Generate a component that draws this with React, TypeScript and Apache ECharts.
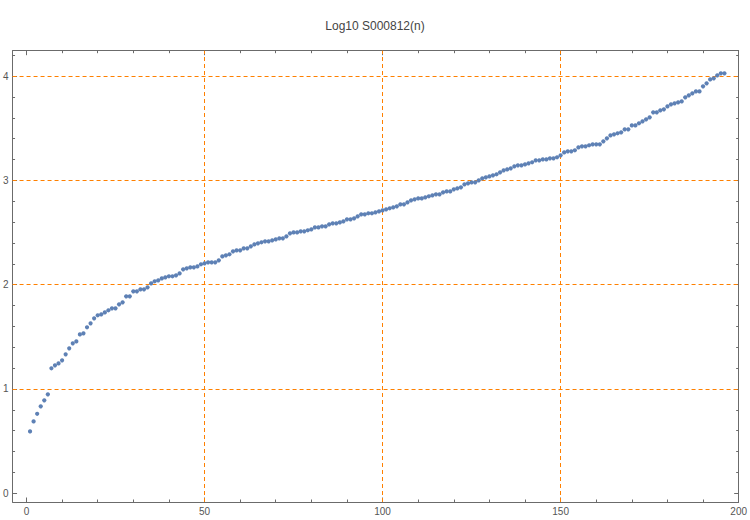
import React, { useEffect, useRef } from "react";
import * as echarts from "echarts";

const titleText = "Log10 S000812(n)";

const logValues: number[] = [
  0.593, 0.689, 0.762, 0.833, 0.891, 0.948, 1.198, 1.226, 1.245, 1.274,
  1.332, 1.389, 1.437, 1.456, 1.523, 1.533, 1.591, 1.629, 1.677, 1.706,
  1.715, 1.734, 1.754, 1.773, 1.773, 1.811, 1.83, 1.888, 1.888, 1.936,
  1.936, 1.955, 1.955, 1.974, 2.012, 2.032, 2.041, 2.06, 2.07, 2.08,
  2.08, 2.089, 2.108, 2.147, 2.156, 2.166, 2.166, 2.175, 2.195, 2.204,
  2.214, 2.214, 2.214, 2.233, 2.271, 2.281, 2.291, 2.319, 2.329, 2.329,
  2.348, 2.348, 2.367, 2.386, 2.396, 2.406, 2.415, 2.415, 2.425, 2.434,
  2.444, 2.444, 2.463, 2.492, 2.501, 2.501, 2.511, 2.511, 2.521, 2.53,
  2.549, 2.549, 2.559, 2.559, 2.578, 2.588, 2.588, 2.597, 2.607, 2.626,
  2.626, 2.636, 2.655, 2.674, 2.674, 2.684, 2.684, 2.693, 2.703, 2.712,
  2.722, 2.732, 2.741, 2.751, 2.77, 2.77, 2.789, 2.808, 2.818, 2.827,
  2.827, 2.837, 2.847, 2.856, 2.866, 2.866, 2.885, 2.894, 2.894, 2.914,
  2.923, 2.933, 2.962, 2.971, 2.981, 2.981, 3.0, 3.019, 3.029, 3.038,
  3.048, 3.058, 3.077, 3.096, 3.105, 3.115, 3.134, 3.144, 3.144, 3.153,
  3.163, 3.173, 3.192, 3.192, 3.201, 3.201, 3.211, 3.211, 3.221, 3.24,
  3.268, 3.278, 3.278, 3.288, 3.316, 3.326, 3.326, 3.336, 3.345, 3.345,
  3.345, 3.374, 3.403, 3.431, 3.441, 3.451, 3.46, 3.489, 3.489, 3.527,
  3.527, 3.547, 3.566, 3.585, 3.604, 3.652, 3.652, 3.671, 3.681, 3.709,
  3.729, 3.738, 3.748, 3.757, 3.796, 3.815, 3.834, 3.853, 3.853, 3.901,
  3.93, 3.968, 3.978, 4.007, 4.026, 4.026,
];

const xMajorTicks = [0, 50, 100, 150, 200];
const xMinorTicks = [10, 20, 30, 40, 60, 70, 80, 90, 110, 120, 130, 140, 160, 170, 180, 190];
const yMajorTicks = [0, 1, 2, 3, 4];
const yMinorTicks = [
  0.2, 0.4, 0.6, 0.8, 1.2, 1.4, 1.6, 1.8, 2.2, 2.4, 2.6, 2.8, 3.2, 3.4, 3.6, 3.8, 4.2,
];
const gridLinesX = [50, 100, 150];
const gridLinesY = [1, 2, 3, 4];

const X_MIN = -3.91;
const X_MAX = 200;
const Y_MIN = -0.084;
const Y_MAX = 4.243;

const FRAME = "#6b6b6b";
const LABEL = "#555555";
const FONT = "'Liberation Sans', Arial, sans-serif";

function makeX(position: "top" | "bottom", ticks: number[], len: number, labels: boolean, line: boolean) {
  return {
    type: "value",
    position,
    min: X_MIN,
    max: X_MAX,
    axisLine: { show: line, onZero: false, lineStyle: { color: FRAME, width: 1 } },
    axisTick: {
      show: true,
      inside: true,
      length: len,
      customValues: ticks,
      lineStyle: { color: FRAME, width: 1 },
    },
    axisLabel: labels
      ? {
          show: true,
          customValues: ticks,
          color: LABEL,
          fontSize: 10,
          fontFamily: FONT,
          margin: 4,
        }
      : { show: false },
    splitLine: { show: false },
  };
}

function makeY(position: "left" | "right", ticks: number[], len: number, labels: boolean, line: boolean) {
  return {
    type: "value",
    position,
    min: Y_MIN,
    max: Y_MAX,
    axisLine: { show: line, onZero: false, lineStyle: { color: FRAME, width: 1 } },
    axisTick: {
      show: true,
      inside: true,
      length: len,
      customValues: ticks,
      lineStyle: { color: FRAME, width: 1 },
    },
    axisLabel: labels
      ? {
          show: true,
          customValues: ticks,
          color: LABEL,
          fontSize: 10,
          fontFamily: FONT,
          margin: 4,
        }
      : { show: false },
    splitLine: { show: false },
  };
}

export default function App() {
  const ref = useRef<HTMLDivElement>(null);

  useEffect(() => {
    if (!ref.current) return;
    const chart = echarts.init(ref.current, undefined, { renderer: "svg" });
    const points = logValues.map((v, i) => [i + 1, v]);
    const markData = [
      ...gridLinesX.map((x) => ({ xAxis: x })),
      ...gridLinesY.map((y) => ({ yAxis: y })),
    ];
    chart.setOption({
      animation: false,
      backgroundColor: "#ffffff",
      title: {
        text: titleText,
        left: "center",
        top: 15,
        textStyle: { fontSize: 12, fontWeight: "normal", color: "#444444", fontFamily: FONT },
      },
      grid: { left: 9.3, right: 10.7, top: 50.7, bottom: 18 },
      xAxis: [
        makeX("bottom", xMajorTicks, 4.5, true, true),
        makeX("bottom", xMinorTicks, 2.5, false, false),
        makeX("top", xMajorTicks, 4.5, false, true),
        makeX("top", xMinorTicks, 2.5, false, false),
      ],
      yAxis: [
        makeY("left", yMajorTicks, 4.5, true, true),
        makeY("left", yMinorTicks, 2.5, false, false),
        makeY("right", yMajorTicks, 4.5, false, true),
        makeY("right", yMinorTicks, 2.5, false, false),
      ],
      series: [
        {
          type: "scatter",
          xAxisIndex: 0,
          yAxisIndex: 0,
          data: [],
          z: 1,
          silent: true,
          markLine: {
            silent: true,
            z: 1,
            symbol: ["none", "none"],
            label: { show: false },
            lineStyle: { color: "#FF8000", type: [4, 3], width: 1 },
            emphasis: { disabled: true },
            data: markData,
          },
        },
        {
          type: "scatter",
          xAxisIndex: 0,
          yAxisIndex: 0,
          data: points,
          symbolSize: 4.2,
          z: 3,
          itemStyle: { color: "#5E81B5", opacity: 1 },
        },
      ],
    });
    return () => chart.dispose();
  }, []);

  return (
    <div
      ref={ref}
      style={{ position: "absolute", left: 0, top: 0, width: 750, height: 520 }}
    />
  );
}
